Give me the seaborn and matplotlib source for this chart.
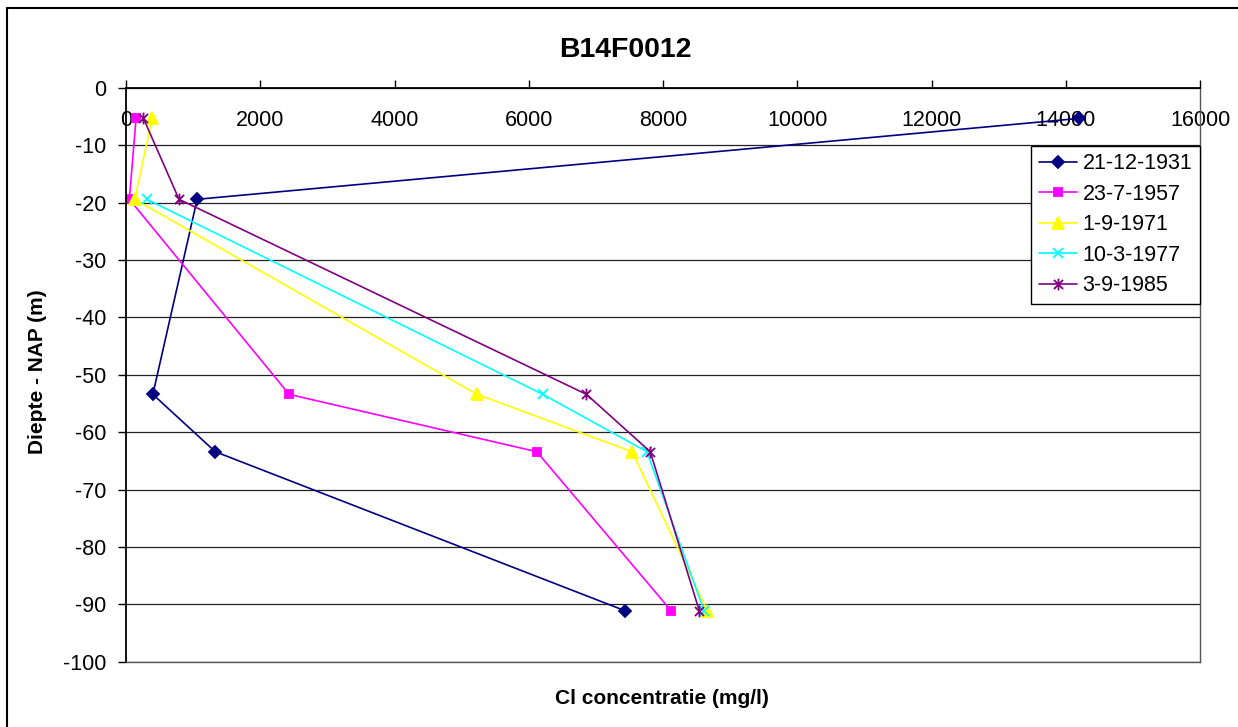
import numpy as np
import pandas as pd
import matplotlib
matplotlib.use("Agg")
import matplotlib.pyplot as plt
from matplotlib.path import Path
from matplotlib.lines import Line2D
import seaborn as sns

# Depths of the sampled filters (m relative to NAP)
depth = [-5.3, -19.4, -53.4, -63.4, -91.1]

# Chloride concentration (mg/l) per sampling date
dates = ["21-12-1931", "23-7-1957", "1-9-1971", "10-3-1977", "3-9-1985"]
cl_1931 = [14200, 1060, 400, 1330, 7430]
cl_1957 = [150, 50, 2430, 6120, 8120]
cl_1971 = [390, 130, 5230, 7540, 8660]
cl_1977 = [np.nan, 310, 6210, 7760, 8610]
cl_1985 = [260, 790, 6860, 7810, 8540]

x_ticks = list(range(0, 16001, 2000))
y_ticks = list(range(0, -101, -10))

series = [cl_1931, cl_1957, cl_1971, cl_1977, cl_1985]
frames = []
for d, vals in zip(dates, series):
    frames.append(pd.DataFrame({"datum": d, "diepte": depth, "cl": vals,
                                "orde": range(len(depth))}))
df = pd.concat(frames, ignore_index=True).dropna()

# star marker: an x with a vertical stroke through it
star = Path([(-1, -1), (1, 1), (-1, 1), (1, -1), (0, -1.3), (0, 1.3)],
            [Path.MOVETO, Path.LINETO, Path.MOVETO, Path.LINETO,
             Path.MOVETO, Path.LINETO])

styles = {
    "21-12-1931": dict(color="#000080", marker="D", ms=6),
    "23-7-1957": dict(color="#FF00FF", marker="s", ms=6),
    "1-9-1971": dict(color="#FFFF00", marker="^", ms=8),
    "10-3-1977": dict(color="#00FFFF", marker="x", ms=7.5),
    "3-9-1985": dict(color="#800080", marker=star, ms=8.5),
}

sns.set_style("white")
plt.rcParams["font.family"] = ["Liberation Sans", "DejaVu Sans"]
plt.rcParams["axes.unicode_minus"] = False
plt.rcParams["text.color"] = "black"
plt.rcParams["xtick.color"] = "black"
plt.rcParams["ytick.color"] = "black"
plt.rcParams["xtick.labelcolor"] = "black"
plt.rcParams["ytick.labelcolor"] = "black"

FS = 15.5

fig = plt.figure(figsize=(12.38, 7.27), dpi=100)
ax = fig.add_axes([126 / 1238, 1 - 661.7 / 727, (1200 - 126) / 1238, (661.7 - 88) / 727])

for d in dates:
    st = styles[d]
    sub = df[df["datum"] == d].sort_values("orde")
    sns.lineplot(data=sub, x="cl", y="diepte", sort=False, estimator=None,
                 color=st["color"], marker=st["marker"], markersize=st["ms"],
                 markeredgecolor=st["color"], markerfacecolor=st["color"],
                 markeredgewidth=1.3, linewidth=1.2, label=d, ax=ax)

ax.set_xlim(0, 16000)
ax.set_ylim(-100, 0)
ax.set_xticks(x_ticks)
ax.set_yticks(y_ticks)
ax.set_xticklabels([str(t) for t in x_ticks])
ax.set_yticklabels([str(t) for t in y_ticks])

ax.grid(axis="y", color="#222222", linewidth=0.9)
ax.grid(axis="x", visible=False)
ax.set_axisbelow(True)

# x axis lies along depth 0, labels hang just below it
ax.xaxis.tick_top()
ax.tick_params(axis="x", direction="out", length=6, width=1, colors="black",
               labelsize=FS, pad=-37, top=True, bottom=False,
               labeltop=True, labelbottom=False)
ax.tick_params(axis="y", direction="out", length=6, width=1, colors="black",
               labelsize=FS, pad=8, left=True)

for side in ["top", "left"]:
    ax.spines[side].set_color("black")
    ax.spines[side].set_linewidth(1.3)
ax.spines["right"].set_color("#555555")
ax.spines["right"].set_linewidth(1.0)
ax.spines["bottom"].set_color("#555555")
ax.spines["bottom"].set_linewidth(1.0)

ax.set_xlabel("")
ax.set_ylabel("")
fig.text(662 / 1238, 1 - 698 / 727, "Cl concentratie (mg/l)", ha="center",
         va="center", fontsize=15, fontweight="bold", color="black")
fig.text(38 / 1238, 1 - 372 / 727, "Diepte - NAP (m)", ha="center",
         va="center", rotation=90, fontsize=15, fontweight="bold", color="black")
fig.text(625 / 1238, 1 - 50 / 727, "B14F0012", ha="center", va="center",
         fontsize=20.5, fontweight="bold", color="black")

leg = ax.legend(loc="upper right", bbox_to_anchor=(1.0, 0.8994),
                borderaxespad=0, fontsize=FS, frameon=True, fancybox=False,
                framealpha=1, edgecolor="black", handlelength=1.8,
                handletextpad=0.25, labelspacing=0.44, borderpad=0.35)
leg.get_frame().set_linewidth(1.0)
for t in leg.get_texts():
    t.set_color("black")

# chart area border
fig.add_artist(Line2D([7 / 1238, 7 / 1238], [0, 1 - 8 / 727], color="black",
                      linewidth=1.5, transform=fig.transFigure))
fig.add_artist(Line2D([7 / 1238, 1], [1 - 8 / 727, 1 - 8 / 727], color="black",
                      linewidth=1.5, transform=fig.transFigure))

fig.savefig("out.png", dpi=100)
